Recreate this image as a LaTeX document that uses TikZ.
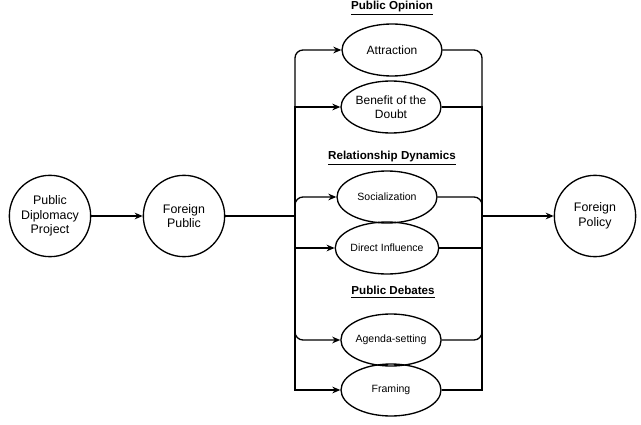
\documentclass[tikz,border=0pt]{standalone}
\usepackage{fontspec}
\setmainfont{Liberation Sans}
\usetikzlibrary{arrows.meta, shapes.geometric}
\tikzset{% 
	>={Stealth[length=6pt, width=5pt]},
	actor/.style = {name = #1, circle, draw, minimum size = 61pt, inner sep = 1pt, align = center, font = \fontsize{9.3}{11}\selectfont},
	chan/.style = {name = #1, ellipse, draw, minimum width = 75pt, minimum height = 39pt, inner sep = 0pt, align = center, font = \fontsize{9}{10.5}\selectfont},
	chansmall/.style = {chan = #1, font = \fontsize{7.9}{9.5}\selectfont},
	group/.style = {inner sep = 1pt, font = \bfseries\fontsize{8.7}{10}\selectfont},
	route/.style = {rounded corners = 6pt}
}
\begin{document}
\begin{tikzpicture}[x=0.75pt, y=-0.75pt, line width=1pt]
			\useasboundingbox (0,0) rectangle (641,424);
			\node [actor = {PDP}] at (50,216) {Public\\Diplomacy\\Project};
			\node [actor = {FPub}] at (184,216) {Foreign\\Public};
			\node [actor = {FPol}] at (595,216) {Foreign\\Policy};
			\node [chan = {Attr}] at (392,50) {Attraction};
			\node [chan = {Bene}] at (391,107) {Benefit of the\\Doubt};
			\node [chansmall = {Soc}] at (387,197) {Socialization};
			\node [chansmall = {DInf}] at (387,248) {Direct Influence};
			\node [chansmall = {Agen}] at (391,340) {Agenda-setting};
			\node [chansmall = {Fram}] at (391,390) {Framing};
			\node [group, name = GOpin] at (392,8) {\underline{Public Opinion}};
			\node [group, name = GRel] at (392,158) {\underline{Relationship Dynamics}};
			\node [group, name = GDeb] at (393,292) {\underline{Public Debates}};
			\coordinate (JL) at (295,216);
			\coordinate (JR) at (482,216);
			\path [->] (PDP) edge (FPub);
			\draw (FPub) -- (JL);
			\draw [->, route] (JL) |- (Attr);
			\draw [->] (JL) |- (Bene);
			\draw [->, route] (JL) |- (Soc);
			\draw [->] (JL) |- (DInf);
			\draw [->, route] (JL) |- (Agen);
			\draw [->] (JL) |- (Fram);
			\draw [route] (Attr) -| (JR);
			\draw (Bene) -| (JR);
			\draw [route] (Soc) -| (JR);
			\draw (DInf) -| (JR);
			\draw [route] (Agen) -| (JR);
			\draw (Fram) -| (JR);
			\path [->] (JR) edge (FPol);
\end{tikzpicture}
\end{document}
